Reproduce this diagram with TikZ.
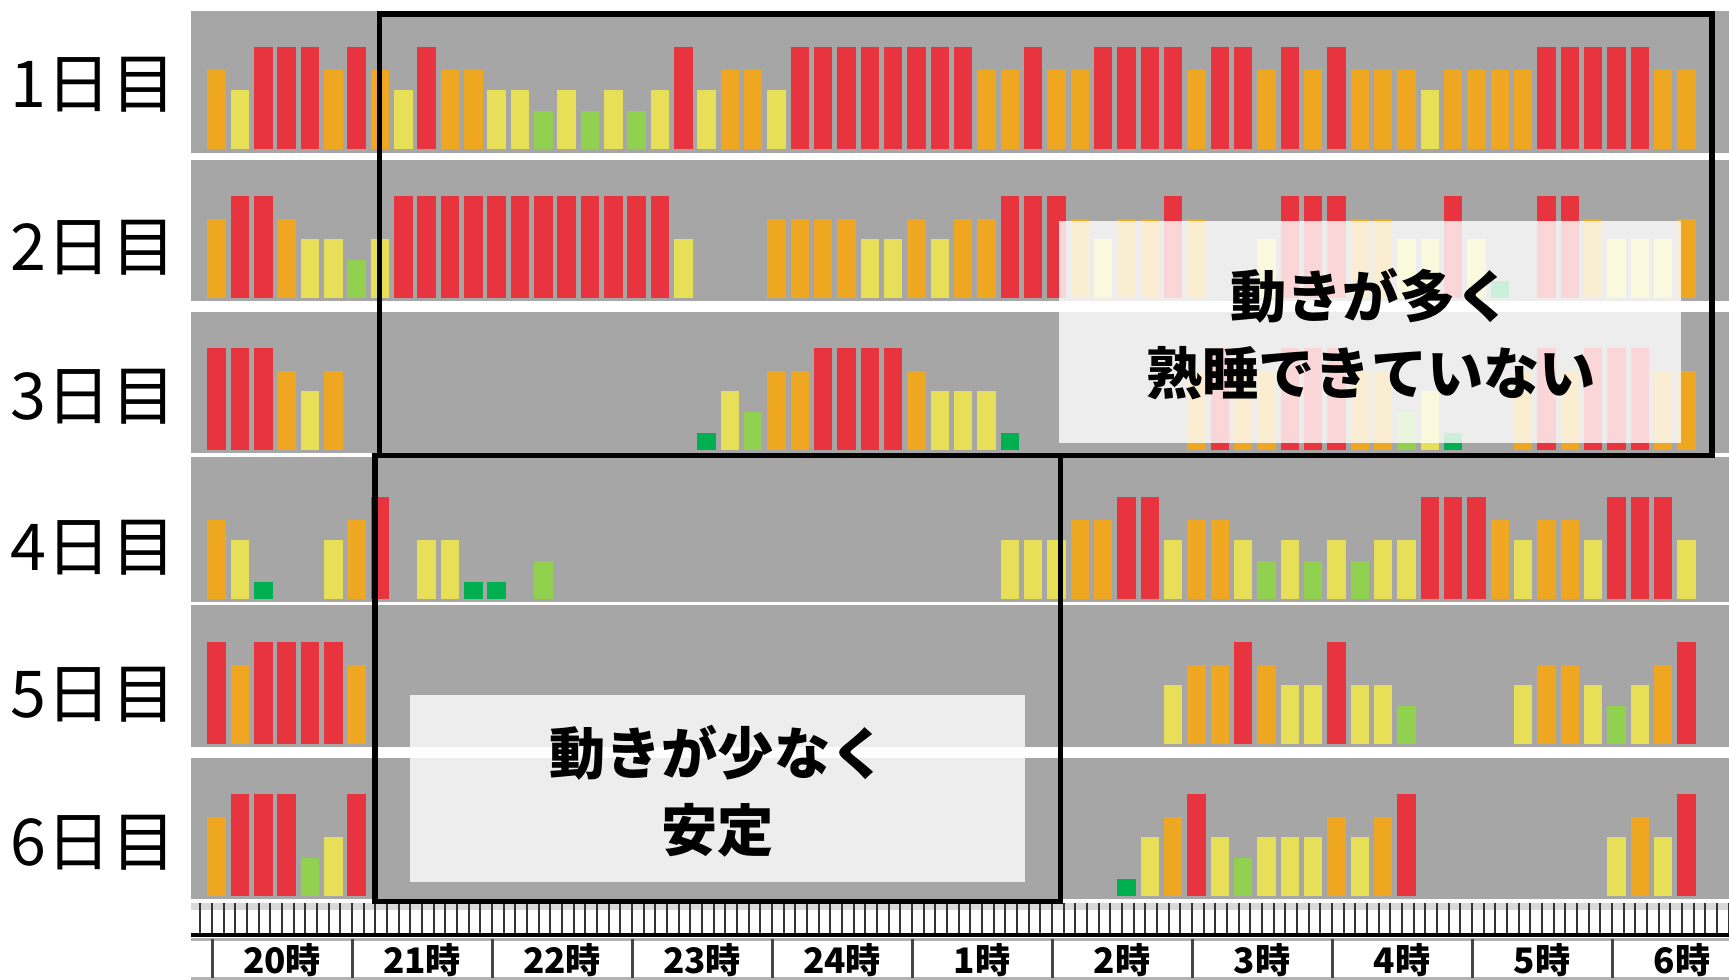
\documentclass[tikz,border=0pt]{standalone}
\usepackage{fontspec}
\newfontfamily\jpfont{Noto Sans CJK JP}
\definecolor{band}{HTML}{A6A6A6}
\definecolor{barR}{HTML}{E8343F}
\definecolor{barO}{HTML}{EFA620}
\definecolor{barY}{HTML}{E8DF58}
\definecolor{barG}{HTML}{92D050}
\definecolor{barD}{HTML}{00B050}
\definecolor{barN}{HTML}{A6A6A6}
% bar heights per level
\def\lvhR{102}\def\lvhO{79}\def\lvhY{59}\def\lvhG{38}\def\lvhD{17}\def\lvhN{0}
% one day: baseline, then one level per 10 minutes from 20:00
\newcommand\dayrow[2]{%
  \foreach \lv [count=\k from 0] in {#2}
    \fill[bar\lv] ({207.4+23.33*\k},#1) rectangle ++(18.5,-\csname lvh\lv\endcsname);}
\begin{document}
\begin{tikzpicture}[x=0.1mm, y=-0.1mm,
  daylabel/.style={font=\jpfont\fontsize{18.4}{20}\selectfont, inner sep=0pt},
  notetext/.style={font=\jpfont\bfseries\fontsize{16}{21.8}\selectfont, align=center, inner sep=0pt},
  hourlabel/.style={font=\jpfont\bfseries\fontsize{10}{12}\selectfont, inner sep=0pt},
  tick/.style={draw=gray!40!black, line width=0.2mm},
  hoursep/.style={draw=gray!55!black, line width=0.3mm},
  frame/.style={draw=black, line width=0.55mm},
  veil/.style={fill=white, fill opacity=0.8}]
  \useasboundingbox[fill=white] (0,0) rectangle (1729,980);
  % day bands
  \foreach \top/\bot in {11/152.7, 160/300.7, 312/452.7, 456.7/601.7, 605/746.7, 758/899}
    \fill[band] (191,\top) rectangle (1729,\bot);
  \dayrow{148.7}{O,Y,R,R,R,O,R,O,Y,R,O,O,Y,Y,G,Y,G,Y,G,Y,R,Y,O,O,Y,R,R,R,R,R,R,R,R,O,O,R,O,O,R,R,R,R,O,R,R,O,R,O,R,O,O,O,Y,O,O,O,O,R,R,R,R,R,O,O}
  \dayrow{297.7}{O,R,R,O,Y,Y,G,Y,R,R,R,R,R,R,R,R,R,R,R,R,Y,N,N,N,O,O,O,O,Y,Y,O,Y,O,O,R,R,R,O,Y,O,O,R,O,N,N,Y,R,R,R,O,O,Y,Y,R,Y,D,N,R,R,O,Y,Y,Y,O}
  \dayrow{449.7}{R,R,R,O,Y,O,N,N,N,N,N,N,N,N,N,N,N,N,N,N,N,D,Y,G,O,O,R,R,R,R,O,Y,Y,Y,D,N,N,N,N,N,N,N,O,R,O,O,R,R,R,O,O,G,Y,D,N,N,O,R,O,R,R,R,O,O}
  \dayrow{599}{O,Y,D,N,N,Y,O,R,N,Y,Y,D,D,N,G,N,N,N,N,N,N,N,N,N,N,N,N,N,N,N,N,N,N,N,Y,Y,Y,O,O,R,R,Y,O,O,Y,G,Y,G,Y,G,Y,Y,R,R,R,O,Y,O,O,Y,R,R,R,Y}
  \dayrow{743.7}{R,O,R,R,R,R,O,N,N,N,N,N,N,N,N,N,N,N,N,N,N,N,N,N,N,N,N,N,N,N,N,N,N,N,N,N,N,N,N,N,N,Y,O,O,R,O,Y,Y,R,Y,Y,G,N,N,N,N,Y,O,O,Y,G,Y,O,R}
  \dayrow{895.7}{O,R,R,R,G,Y,R,N,N,N,N,N,N,N,N,N,N,N,N,N,N,N,N,N,N,N,N,N,N,N,N,N,N,N,N,N,N,N,N,D,Y,O,R,Y,G,Y,Y,Y,O,Y,O,R,N,N,N,N,N,N,N,N,Y,O,Y,R}
  % day labels
  \node[daylabel] (d1) at (93.5,85) {1日目};
  \node[daylabel] (d2) at (93.5,248) {2日目};
  \node[daylabel] (d3) at (93.5,397) {3日目};
  \node[daylabel] (d4) at (93.5,548) {4日目};
  \node[daylabel] (d5) at (93.5,695) {5日目};
  \node[daylabel] (d6) at (93.5,843) {6日目};
  % time axis
  \fill[gray!30] (191,903) rectangle (1729,910);
  \foreach \j in {-1,...,131}
    \draw[tick] ({212+11.667*\j},903) -- ++(0,32);
  \draw[line width=0.35mm] (191,935) -- (1729,935);
  \draw[gray!60, line width=0.3mm] (191,939) -- (1729,939);
  \draw[gray!60, line width=0.3mm] (191,978.5) -- (1729,978.5);
  \foreach \h in {0,...,10}
    \draw[hoursep] ({212+140*\h},939) -- ++(0,39);
  \foreach \t [count=\h from 0] in {20,21,22,23,24,1,2,3,4,5,6}
    \node[hourlabel] (h\h) at ({282+140*\h},960) {\t 時};
  % notes
  \fill[veil] (1059,221) rectangle (1681.3,442.7);
  \node[notetext] (busy) at (1371,334) {動きが多く\\熟睡できていない};
  \fill[veil] (410,695) rectangle (1025,882);
  \node[notetext] (calm) at (718,791) {動きが少なく\\安定};
  % frames
  \draw[frame] (379.5,14) rectangle (1712,455.5);
  \draw[frame] (374.8,455.5) rectangle (1060.5,901.5);
\end{tikzpicture}
\end{document}
